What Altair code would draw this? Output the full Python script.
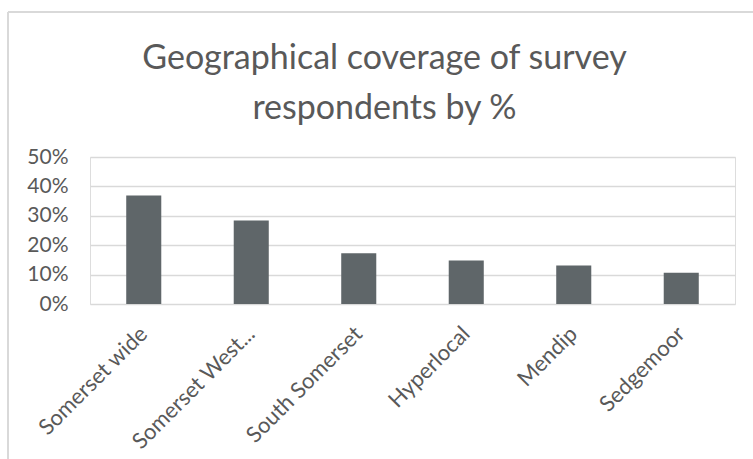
import altair as alt
import pandas as pd

categories = ["Somerset wide", "Somerset West...", "South Somerset", "Hyperlocal", "Mendip", "Sedgemoor"]
values = [0.369, 0.284, 0.173, 0.148, 0.131, 0.106]

df = pd.DataFrame({"area": categories, "share": values})

TEXT = "#595959"
GRID = "#d9d9d9"
BAR = "#5f6669"
FONT = "Lato"

bars = alt.Chart(df).mark_bar(color=BAR).encode(
    x=alt.X("area:N", sort=categories, title=None,
            scale=alt.Scale(paddingInner=0.674, paddingOuter=0.337),
            axis=alt.Axis(labelAngle=-45, labelAlign="right", labelBaseline="middle",
                          labelPadding=26, ticks=False, domain=False, grid=False,
                          labelFontSize=22, labelColor=TEXT, labelFont=FONT,
                          labelLimit=300)),
    y=alt.Y("share:Q", title=None,
            scale=alt.Scale(domain=[0, 0.5], nice=False),
            axis=alt.Axis(format=".0%", values=[0, 0.1, 0.2, 0.3, 0.4, 0.5],
                          ticks=False, domain=False, grid=True, gridColor=GRID,
                          gridWidth=1.3, labelPadding=22, labelFontSize=21,
                          labelColor=TEXT, labelFont=FONT)),
)

border_v = alt.Chart(df).mark_rule(color=GRID, strokeWidth=1.3).encode(
    x=alt.value(-82), y=alt.value(-145), y2=alt.value(310))
border_h = alt.Chart(df).mark_rule(color=GRID, strokeWidth=1.3).encode(
    x=alt.value(-82), x2=alt.value(670), y=alt.value(-145))

chart = alt.layer(bars, border_v, border_h).properties(
    width=645, height=147,
    autosize=alt.AutoSizeParams(type="none"),
    padding={"left": 90, "top": 157, "right": 18, "bottom": 156},
    title=alt.Title(["Geographical coverage of survey", "respondents by %"],
                    fontSize=34, font=FONT, fontWeight="normal", color=TEXT,
                    anchor="middle", frame="group", dx=-28, offset=-115, lineHeight=50),
).configure_view(stroke=None).configure(background="white")

chart.save("out.html", embed_options={"renderer": "svg", "actions": False})
